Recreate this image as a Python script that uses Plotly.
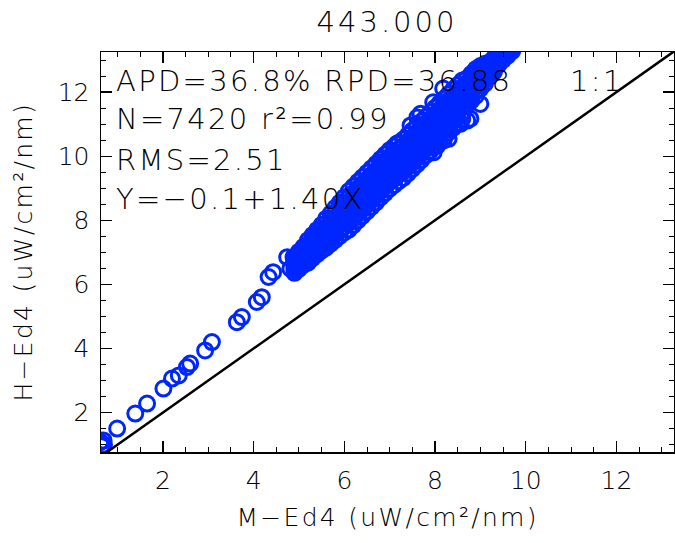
import plotly.graph_objects as go

# ---- data ----
title_text = "443.000"
x_label = "M−Ed4 (uW/cm²/nm)"
y_label = "H−Ed4 (uW/cm²/nm)"
stats_lines = ["APD=36.8% RPD=36.88", "N=7420 r²=0.99", "RMS=2.51", "Y=−0.1+1.40X"]
ratio_label = "1:1"

x_range = [0.634, 13.27]
y_range = [0.77, 13.25]
tick_vals = [2, 4, 6, 8, 10, 12]

# sparse low-value points
low_x = [0.62, 0.65, 0.69, 0.70, 0.99, 1.39, 1.65, 2.01, 2.20, 2.35, 2.53, 2.60, 2.93, 3.08,
         3.63, 3.74, 4.07, 4.18, 4.33, 4.43, 4.74, 4.81, 4.88]
low_y = [1.08, 0.95, 1.13, 1.00, 1.50, 1.97, 2.28, 2.75, 3.06, 3.16, 3.42, 3.53, 3.94, 4.20,
         4.82, 4.98, 5.45, 5.60, 6.23, 6.38, 6.85, 6.49, 6.85]

# dense band: x columns and seven y readings per column (lowest to highest)
band_x = [4.9, 5.0, 5.1, 5.2, 5.3, 5.4, 5.5, 5.6, 5.7, 5.8,
          5.9, 6.0, 6.1, 6.2, 6.3, 6.4, 6.5, 6.6, 6.7, 6.8,
          6.9, 7.0, 7.1, 7.2, 7.3, 7.4, 7.5, 7.6, 7.7, 7.8,
          7.9, 8.0, 8.1, 8.2, 8.3, 8.4, 8.5, 8.6, 8.7, 8.8,
          8.9, 9.0, 9.1, 9.2, 9.3, 9.4, 9.5, 9.6, 9.7]
band_y1 = [6.36, 6.48, 6.61, 6.68, 6.82, 6.94, 7.06, 7.15, 7.27, 7.39,
           7.51, 7.62, 7.71, 7.85, 8.00, 8.14, 8.28, 8.42, 8.56, 8.71,
           8.85, 8.99, 9.10, 9.22, 9.32, 9.46, 9.60, 9.74, 9.88, 10.03,
           10.17, 10.31, 10.45, 10.59, 10.74, 10.88, 11.02, 11.16, 11.58, 11.73,
           11.88, 12.11, 12.26, 12.48, 12.63, 12.85, 13.00, 13.14, 13.28]
band_y2 = [6.44, 6.57, 6.70, 6.80, 6.94, 7.07, 7.19, 7.30, 7.43, 7.56,
           7.68, 7.80, 7.91, 8.05, 8.20, 8.34, 8.48, 8.62, 8.76, 8.91,
           9.05, 9.19, 9.30, 9.42, 9.52, 9.66, 9.80, 9.94, 10.08, 10.23,
           10.37, 10.51, 10.65, 10.79, 10.94, 11.08, 11.22, 11.36, 11.72, 11.87,
           12.02, 12.23, 12.38, 12.57, 12.72, 12.92, 13.07, 13.21, 13.35]
band_y3 = [6.53, 6.66, 6.80, 6.91, 7.06, 7.19, 7.33, 7.45, 7.58, 7.72,
           7.86, 7.99, 8.11, 8.25, 8.40, 8.54, 8.68, 8.82, 8.96, 9.11,
           9.25, 9.39, 9.50, 9.62, 9.72, 9.86, 10.00, 10.14, 10.28, 10.43,
           10.57, 10.71, 10.85, 10.99, 11.14, 11.28, 11.42, 11.56, 11.86, 12.01,
           12.16, 12.34, 12.49, 12.67, 12.82, 12.98, 13.13, 13.27, 13.41]
band_y4 = [6.61, 6.75, 6.89, 7.03, 7.18, 7.32, 7.46, 7.60, 7.74, 7.89,
           8.03, 8.17, 8.31, 8.45, 8.60, 8.74, 8.88, 9.02, 9.16, 9.31,
           9.45, 9.59, 9.70, 9.82, 9.92, 10.06, 10.20, 10.34, 10.48, 10.63,
           10.77, 10.91, 11.05, 11.19, 11.34, 11.48, 11.62, 11.76, 12.00, 12.15,
           12.30, 12.46, 12.61, 12.76, 12.91, 13.05, 13.20, 13.34, 13.48]
band_y5 = [6.69, 6.84, 6.98, 7.15, 7.30, 7.45, 7.59, 7.75, 7.90, 8.06,
           8.20, 8.35, 8.51, 8.65, 8.80, 8.94, 9.08, 9.22, 9.36, 9.51,
           9.65, 9.79, 9.90, 10.02, 10.12, 10.26, 10.40, 10.54, 10.68, 10.83,
           10.97, 11.11, 11.25, 11.39, 11.54, 11.68, 11.82, 11.96, 12.14, 12.29,
           12.44, 12.58, 12.73, 12.85, 13.00, 13.12, 13.27, 13.41, 13.55]
band_y6 = [6.78, 6.93, 7.08, 7.26, 7.42, 7.57, 7.73, 7.90, 8.05, 8.22,
           8.38, 8.54, 8.71, 8.85, 9.00, 9.14, 9.28, 9.42, 9.56, 9.71,
           9.85, 9.99, 10.10, 10.22, 10.32, 10.46, 10.60, 10.74, 10.88, 11.03,
           11.17, 11.31, 11.45, 11.59, 11.74, 11.88, 12.02, 12.16, 12.28, 12.43,
           12.58, 12.69, 12.84, 12.92, 13.06, 13.18, 13.33, 13.47, 13.61]
band_y7 = [6.86, 7.02, 7.17, 7.38, 7.54, 7.70, 7.86, 8.05, 8.21, 8.39,
           8.55, 8.72, 8.91, 9.05, 9.20, 9.34, 9.48, 9.62, 9.76, 9.91,
           10.05, 10.19, 10.30, 10.42, 10.52, 10.66, 10.80, 10.94, 11.08, 11.23,
           11.37, 11.51, 11.65, 11.79, 11.94, 12.08, 12.22, 12.36, 12.42, 12.57,
           12.72, 12.81, 12.88, 12.92, 13.02, 13.20, 13.40, 13.54, 13.68]

# scattered rings at the band edges
edge_x = [8.18, 7.96, 7.61, 7.46, 7.68, 7.16, 6.79, 8.19, 8.56, 8.71, 8.05,
          8.30, 7.97, 8.78, 9.00]
edge_y = [12.11, 11.68, 11.21, 10.96, 11.32, 10.39, 9.81, 10.49, 11.01, 11.11, 10.33,
          10.54, 10.12, 11.17, 11.63]

one_to_one_x = [0, 14]
one_to_one_y = [0, 14]

# ---- build point lists ----
pts_x = list(low_x)
pts_y = list(low_y)
for row in (band_y1, band_y2, band_y3, band_y4, band_y5, band_y6, band_y7):
    pts_x += band_x
    pts_y += row
pts_x += edge_x
pts_y += edge_y

BLUE = "#0026ff"
FONT = "DejaVu Sans"

FIG_W, FIG_H = 675, 543
ML, MR, MT, MB = 101, 1, 52, 91
PLOT_W = FIG_W - ML - MR
PLOT_H = FIG_H - MT - MB


def px_to_paper_x(px):
    return (px - ML) / PLOT_W


def py_to_paper_y(py):
    return 1 - (py - MT) / PLOT_H


fig = go.Figure()
fig.add_trace(go.Scatter(
    x=pts_x, y=pts_y, mode="markers",
    marker=dict(symbol="circle-open", size=15, color=BLUE, line=dict(width=3, color=BLUE)),
    showlegend=False, hoverinfo="skip"))
fig.add_trace(go.Scatter(
    x=one_to_one_x, y=one_to_one_y, mode="lines",
    line=dict(color="black", width=2.5), showlegend=False, hoverinfo="skip"))

axis_common = dict(
    showline=True, linecolor="black", linewidth=1.5, mirror="ticks",
    ticks="inside", ticklen=11, tickwidth=1.2, tickcolor="black",
    tickvals=tick_vals, showgrid=False, zeroline=False,
    tickfont=dict(family=FONT, size=25, color="black", weight=300),
    minor=dict(ticks="inside", dtick=0.5, tick0=0, ticklen=5, tickwidth=1, tickcolor="black", showgrid=False),
)
fig.update_xaxes(range=x_range, ticklabelstandoff=5, **axis_common)
fig.update_yaxes(range=y_range, ticklabelstandoff=5, **axis_common)

text_font = dict(family=FONT, size=29, color="black", weight=300)
label_font = dict(family=FONT, size=25, color="black", weight=300)

annos = []
line_y_px = [80.5, 119.5, 159.5, 199]
for txt, ypx in zip(stats_lines, line_y_px):
    annos.append(dict(text=txt, xref="paper", yref="paper", x=px_to_paper_x(114),
                      y=py_to_paper_y(ypx), xanchor="left", yanchor="middle", align="left",
                      showarrow=False, font=text_font))
annos.append(dict(text=ratio_label, xref="paper", yref="paper", x=px_to_paper_x(626),
                  y=py_to_paper_y(80.5), xanchor="right", yanchor="middle", align="right",
                  showarrow=False, font=text_font))
annos.append(dict(text=x_label, xref="paper", yref="paper", x=px_to_paper_x(387),
                  y=py_to_paper_y(517.5), xanchor="center", yanchor="middle",
                  showarrow=False, font=label_font))
annos.append(dict(text=y_label, xref="paper", yref="paper", x=px_to_paper_x(23),
                  y=py_to_paper_y(252), xanchor="center", yanchor="middle", textangle=-90,
                  showarrow=False, font=label_font))

fig.update_layout(
    width=FIG_W, height=FIG_H,
    margin=dict(l=ML, r=MR, t=MT, b=MB, autoexpand=False),
    paper_bgcolor="white", plot_bgcolor="white",
    title=dict(text=title_text, x=387 / FIG_W, xanchor="center",
               y=1 - 22 / FIG_H, yanchor="middle", yref="container",
               font=text_font),
    annotations=annos,
)

page_js = (
    "document.body.style.margin='0';"
    "document.body.style.overflow='hidden';"
    "document.querySelectorAll('.annotation-text').forEach(function(t){t.style.letterSpacing='2.3px';});"
    "document.querySelectorAll('.gtitle').forEach(function(t){t.style.letterSpacing='3px';});"
)
fig.write_html("out.html", post_script=page_js, config={"displayModeBar": False, "staticPlot": True})
